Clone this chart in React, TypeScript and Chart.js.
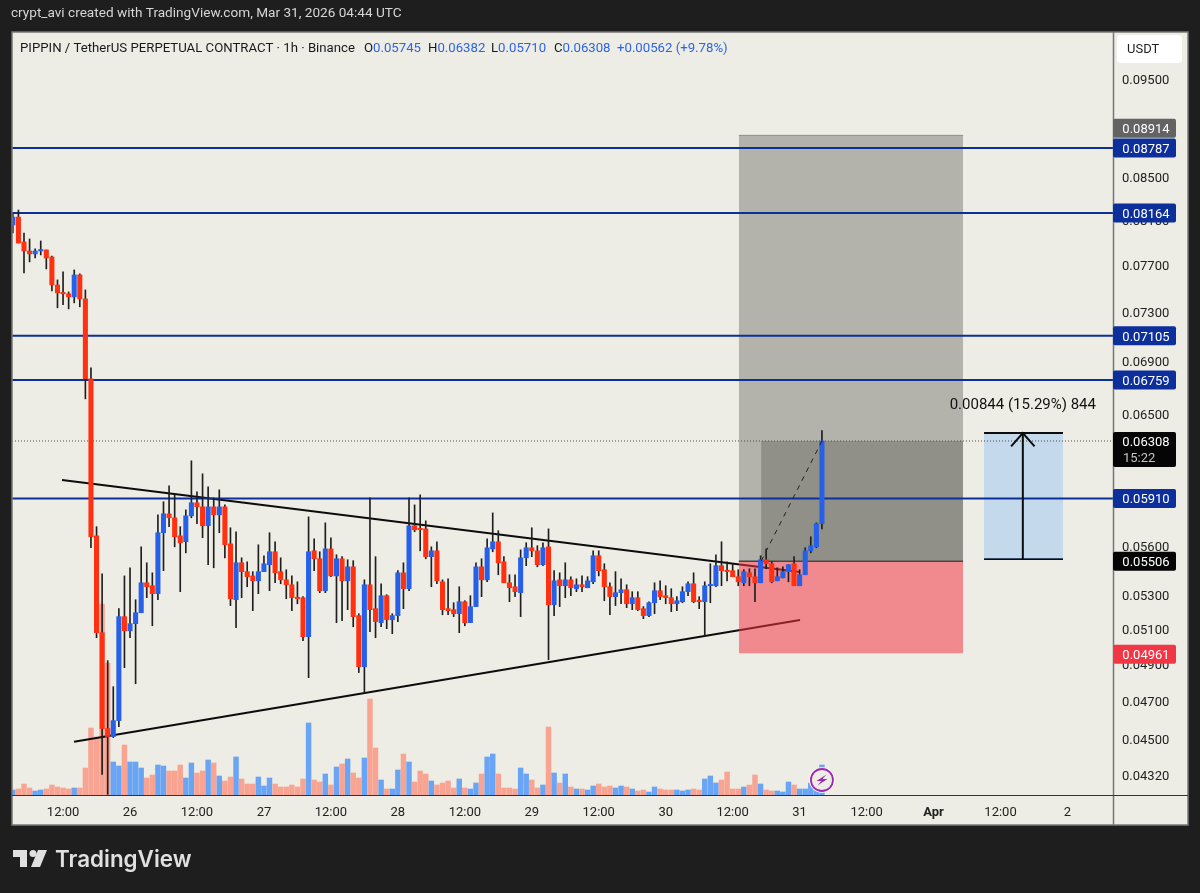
import React, { useEffect, useRef } from "react";
import { Chart, registerables } from "chart.js";
Chart.register(...registerables);

const firstHour = -21;
const opens = [
  0.08054,0.08127,0.07901,0.07821,0.07795,0.07821,0.07830,0.07768,0.07526,0.07459,
  0.07451,0.07425,0.07612,0.07408,0.06768,0.05666,0.05078,0.04556,0.04515,0.04597,
  0.05171,0.05089,0.05130,0.05194,0.05373,0.05355,0.05307,0.05686,0.05809,0.05783,
  0.05666,0.05628,0.05796,0.05882,0.05855,0.05731,0.05855,0.05802,0.05855,0.05615,
  0.05271,0.05496,0.05441,0.05415,0.05385,0.05441,0.05484,0.05565,0.05441,0.05391,
  0.05361,0.05283,0.05283,0.05055,0.05571,0.05521,0.05325,0.05583,0.05415,0.05521,
  0.05385,0.05471,0.05177,0.04886,0.05361,0.05218,0.05136,0.05295,0.05153,0.05177,
  0.05434,0.05337,0.05731,0.05711,0.05711,0.05534,0.05571,0.05379,0.05218,0.05212,
  0.05188,0.05259,0.05136,0.05230,0.05471,0.05391,0.05583,0.05628,0.05502,0.05373,
  0.05349,0.05313,0.05527,0.05590,0.05571,0.05484,0.05596,0.05241,0.05391,0.05355,
  0.05391,0.05337,0.05361,0.05343,0.05379,0.05540,0.05453,0.05349,0.05289,0.05313,
  0.05331,0.05247,0.05283,0.05218,0.05177,0.05253,0.05325,0.05295,0.05283,0.05247,
  0.05259,0.05319,0.05367,0.05265,0.05259,0.05355,0.05355,0.05478,0.05447,0.05447,
  0.05410,0.05373,0.05434,0.05410,0.05373,0.05515,0.05490,0.05385,0.05403,0.05441,
  0.05490,0.05355,0.05422,0.05571,0.05596,0.05745,
];
const highs = [
  0.08164,0.08192,0.07982,0.07928,0.07839,0.07910,0.07830,0.07777,0.07569,0.07638,
  0.07467,0.07655,0.07621,0.07484,0.06852,0.05725,0.05428,0.04920,0.04777,0.05218,
  0.05415,0.05465,0.05271,0.05596,0.05496,0.05434,0.05802,0.05889,0.05996,0.05935,
  0.05725,0.05835,0.06168,0.05955,0.06078,0.05989,0.05915,0.05969,0.05868,0.05718,
  0.05692,0.05527,0.05502,0.05441,0.05609,0.05540,0.05686,0.05628,0.05527,0.05453,
  0.05415,0.05379,0.05289,0.05789,0.05647,0.05565,0.05750,0.05654,0.05546,0.05534,
  0.05515,0.05509,0.05188,0.05391,0.05915,0.05534,0.05367,0.05301,0.05188,0.05447,
  0.05496,0.05915,0.05868,0.05935,0.05763,0.05596,0.05628,0.05391,0.05397,0.05253,
  0.05349,0.05265,0.05295,0.05496,0.05521,0.05647,0.05815,0.05699,0.05534,0.05422,
  0.05422,0.05577,0.05622,0.05718,0.05603,0.05622,0.05711,0.05447,0.05434,0.05496,
  0.05410,0.05397,0.05415,0.05410,0.05571,0.05571,0.05490,0.05373,0.05441,0.05397,
  0.05361,0.05319,0.05319,0.05230,0.05259,0.05373,0.05385,0.05355,0.05337,0.05289,
  0.05349,0.05379,0.05434,0.05289,0.05379,0.05490,0.05546,0.05628,0.05502,0.05490,
  0.05453,0.05453,0.05459,0.05459,0.05540,0.05583,0.05502,0.05465,0.05471,0.05484,
  0.05534,0.05453,0.05590,0.05660,0.05750,0.06382,
];
const lows = [
  0.07982,0.07892,0.07629,0.07725,0.07759,0.07786,0.07664,0.07476,0.07334,0.07359,
  0.07325,0.07375,0.07342,0.06616,0.05590,0.05049,0.04325,0.04229,0.04510,0.04566,
  0.04881,0.05049,0.04793,0.05194,0.05283,0.05118,0.05271,0.05447,0.05725,0.05596,
  0.05319,0.05558,0.05783,0.05744,0.05654,0.05484,0.05465,0.05686,0.05527,0.05236,
  0.05107,0.05283,0.05349,0.05206,0.05307,0.05441,0.05325,0.05373,0.05367,0.05277,
  0.05206,0.05247,0.05032,0.04826,0.05447,0.05313,0.05313,0.05410,0.05136,0.05147,
  0.05212,0.05112,0.04854,0.04745,0.05084,0.05049,0.05112,0.05101,0.05072,0.05142,
  0.05218,0.05325,0.05692,0.05571,0.05521,0.05349,0.05367,0.05182,0.05182,0.05171,
  0.05078,0.05118,0.05136,0.05230,0.05289,0.05379,0.05565,0.05422,0.05373,0.05259,
  0.05289,0.05171,0.05478,0.05534,0.05471,0.05478,0.04925,0.05177,0.05230,0.05283,
  0.05295,0.05319,0.05319,0.05343,0.05367,0.05415,0.05265,0.05182,0.05236,0.05247,
  0.05224,0.05212,0.05206,0.05159,0.05171,0.05188,0.05271,0.05247,0.05200,0.05206,
  0.05253,0.05295,0.05253,0.05218,0.05061,0.05253,0.05349,0.05355,0.05385,0.05410,
  0.05355,0.05355,0.05355,0.05259,0.05373,0.05459,0.05373,0.05385,0.05403,0.05379,
  0.05355,0.05355,0.05422,0.05558,0.05590,0.05710,
];
const closes = [
  0.08127,0.07892,0.07821,0.07795,0.07821,0.07830,0.07759,0.07526,0.07459,0.07451,
  0.07425,0.07612,0.07408,0.06768,0.05660,0.05078,0.04556,0.04515,0.04597,0.05171,
  0.05089,0.05130,0.05194,0.05373,0.05349,0.05307,0.05686,0.05809,0.05783,0.05660,
  0.05622,0.05796,0.05882,0.05855,0.05731,0.05855,0.05802,0.05855,0.05609,0.05277,
  0.05496,0.05441,0.05410,0.05385,0.05441,0.05490,0.05565,0.05434,0.05391,0.05361,
  0.05283,0.05277,0.05055,0.05565,0.05521,0.05325,0.05583,0.05415,0.05521,0.05385,
  0.05471,0.05171,0.04886,0.05361,0.05212,0.05142,0.05295,0.05153,0.05177,0.05434,
  0.05337,0.05731,0.05705,0.05705,0.05534,0.05571,0.05385,0.05212,0.05206,0.05188,
  0.05259,0.05136,0.05230,0.05471,0.05391,0.05590,0.05628,0.05496,0.05373,0.05343,
  0.05319,0.05527,0.05590,0.05571,0.05484,0.05590,0.05241,0.05385,0.05355,0.05391,
  0.05343,0.05361,0.05349,0.05385,0.05540,0.05447,0.05349,0.05289,0.05313,0.05331,
  0.05247,0.05283,0.05212,0.05177,0.05253,0.05325,0.05289,0.05283,0.05247,0.05265,
  0.05319,0.05367,0.05259,0.05259,0.05355,0.05361,0.05478,0.05447,0.05441,0.05410,
  0.05379,0.05441,0.05410,0.05373,0.05515,0.05490,0.05379,0.05410,0.05441,0.05484,
  0.05355,0.05422,0.05571,0.05603,0.05744,0.06308,
];
const volumes = [
  5,6,11,7,4,5,6,10,8,7,
  6,7,7,27,67,58,191,132,33,29,
  50,33,33,27,17,20,30,29,24,24,
  30,17,32,22,24,35,32,19,14,18,
  38,16,11,11,18,9,17,11,8,8,
  10,8,16,72,15,13,21,10,28,31,
  36,22,17,37,96,47,15,6,6,25,
  41,33,13,24,21,14,10,12,14,7,
  16,7,6,12,21,38,41,21,7,7,
  6,27,21,15,7,10,68,22,12,21,
  8,6,6,5,9,11,8,9,7,9,
  8,6,4,5,3,8,6,5,5,5,
  4,5,6,5,16,19,12,15,23,6,
  6,8,10,20,11,5,4,4,3,13,
  10,6,6,12,10,30,
];

const priceTicks = [0.095,0.085,0.081,0.077,0.073,0.069,0.065,0.056,0.053,0.051,0.049,0.047,0.045,0.0432];
const timeTickHours = [-12,0,12,24,36,48,60,72,84,96,108,120,132,144,156,168];
const timeTickLabels = ["12:00","26","12:00","27","12:00","28","12:00","29","12:00","30","12:00","31","12:00","Apr","12:00","2"];
const levelPrices = [0.08787,0.08164,0.07105,0.06759,0.0591];
const levelLabels = ["0.08787","0.08164","0.07105","0.06759","0.05910"];

const targetPrice = 0.08914, entryPrice = 0.05506, stopPrice = 0.04961, lastPrice = 0.06308;
const boxHours = [109.1, 149.3];
const profitStartHour = 113.1;
const rangeHours = [153.05, 167.2];
const rangeLow = 0.0552, rangeHigh = 0.06365, rangeHeadPrice = 0.0627, rangeMidHour = 160, rangeHeadHalf = 2.1;
const upperTrendHours = [-12.19, 120.07], upperTrendPrices = [0.06035, 0.05439];
const lowerTrendHours = [-10.04, 120.07], lowerTrendPrices = [0.04488, 0.05152];
const xMin = -21.15, xMax = 176.16, yMin = 0.04226, yMax = 0.1002, volMax = 763;

const hours = opens.map((_, i) => firstHour + i);
const BG = "#edede5", DARK = "#1e1e1e", BLUE = "#2660e8", RED = "#ff3110", NAVY = "#0c2f9b", FONT = "Roboto";

const line = (pts: any[], color: string, width: number, order: number, extra: any = {}) => ({
  type: "line", data: pts, borderColor: color, borderWidth: width, pointRadius: 0, order, yAxisID: "y",
  tension: 0, fill: false, ...extra,
});
const pair = (xs: number[], ys: number[]) => [{ x: xs[0], y: ys[0] }, { x: xs[1], y: ys[1] }];

const frame = {
  id: "frame",
  beforeDraw(c: any) {
    const x = c.ctx;
    x.save();
    x.fillStyle = DARK; x.fillRect(0, 0, 1200, 893);
    x.fillStyle = BG; x.fillRect(12, 32, 1176, 793);
    x.restore();
  },
  afterDraw(c: any) {
    const x = c.ctx, yS = c.scales.y, xS = c.scales.x;
    x.save();
    x.strokeStyle = "#777"; x.lineWidth = 1.5;
    x.strokeRect(12, 32, 1176, 793);
    x.beginPath(); x.moveTo(1113.5, 32); x.lineTo(1113.5, 825); x.stroke();
    x.strokeStyle = "#333"; x.lineWidth = 1;
    x.beginPath(); x.moveTo(12, 795.5); x.lineTo(1188, 795.5); x.stroke();

    const text = (s: string, px: number, py: number, col: string, font: string, align: CanvasTextAlign = "left") => {
      x.fillStyle = col; x.font = font; x.textAlign = align; x.textBaseline = "middle"; x.fillText(s, px, py);
    };
    // top text
    text("crypt_avi created with TradingView.com, Mar 31, 2026 04:44 UTC", 11, 14, "#d6d6d6", `13.6px ${FONT}`);
    const hf = `13.2px ${FONT}`;
    text("PIPPIN / TetherUS PERPETUAL CONTRACT · 1h · Binance", 20, 48.5, "#17191f", hf);
    const seg: [string, string, number][] = [["O", "0.05745", 364], ["H", "0.06382", 428], ["L", "0.05710", 491], ["C", "0.06308", 554]];
    seg.forEach(([a, b, px]) => {
      text(a, px, 48.5, "#17191f", hf);
      const w = x.measureText(a).width;
      text(b, px + w, 48.5, "#2e64e6", hf);
    });
    text("+0.00562 (+9.78%)", 617, 48.5, "#2e64e6", hf);

    // USDT button
    x.fillStyle = "#ffffff";
    x.beginPath(); x.roundRect(1117, 35, 65, 28, 4); x.fill();
    text("USDT", 1127, 50, "#222", `13px ${FONT}`);

    // price tags
    const tag = (p: number, s: string, col: string, shift = 0) => {
      const py = yS.getPixelForValue(p) + shift;
      x.fillStyle = col;
      x.beginPath(); x.roundRect(1113, py - 9.5, 63, 19, 2); x.fill();
      text(s, 1146, py + 1.5, "#fff", `13px ${FONT}`, "center");
    };
    tag(targetPrice, "0.08914", "#636363", -7);
    levelPrices.forEach((p, i) => tag(p, levelLabels[i], NAVY));
    tag(entryPrice, "0.05506", "#050505");
    tag(stopPrice, "0.04961", "#f23645", 1);
    const ly = yS.getPixelForValue(lastPrice);
    x.fillStyle = "#050505";
    x.beginPath(); x.roundRect(1113, ly - 9, 63, 35, 2); x.fill();
    text("0.06308", 1146, ly + 1.5, "#fff", `13px ${FONT}`, "center");
    text("15:22", 1123, ly + 18, "#c4c4c4", `13px ${FONT}`);

    // range label
    text("0.00844 (15.29%) 844", xS.getPixelForValue(rangeMidHour), 405.5, "#111", `15px ${FONT}`, "center");

    // lightning badge at the latest bar
    const bx = xS.getPixelForValue(hours[hours.length - 1]), by = 780;
    x.beginPath(); x.arc(bx, by, 12.8, 0, Math.PI * 2); x.fillStyle = "#ffffff"; x.fill();
    x.beginPath(); x.arc(bx, by, 11, 0, Math.PI * 2); x.fillStyle = BG; x.fill();
    x.strokeStyle = "#9c27b0"; x.lineWidth = 1.8; x.stroke();
    x.fillStyle = "#9c27b0";
    x.beginPath();
    x.moveTo(bx + 4.5, by - 5.5); x.lineTo(bx - 5.5, by + 1); x.lineTo(bx - 0.5, by + 1); x.lineTo(bx - 4.5, by + 5.5);
    x.lineTo(bx + 5.5, by - 1); x.lineTo(bx + 0.5, by - 1); x.closePath(); x.fill();

    // logo
    x.fillStyle = "#e0e0e0";
    x.fillRect(13, 850, 14, 7); x.fillRect(20, 850, 7, 17);
    x.beginPath(); x.arc(33, 853.5, 3.5, 0, Math.PI * 2); x.fill();
    x.beginPath(); x.moveTo(38, 850); x.lineTo(47, 850); x.lineTo(40, 867); x.lineTo(31, 867); x.closePath(); x.fill();
    text("TradingView", 55, 860, "#e0e0e0", `600 22.4px Inter`);
    x.restore();
  },
};

export default function App() {
  const ref = useRef<HTMLCanvasElement>(null);
  useEffect(() => {
    const isUp = (i: number) => closes[i] >= opens[i];
    const chart = new Chart(ref.current as any, {
      type: "bar",
      data: {
        datasets: [
          { label: "Volume", data: hours.map((h, i) => ({ x: h, y: volumes[i] })), yAxisID: "y1", order: 100, barThickness: 4.8,
            backgroundColor: hours.map((_, i) => (isUp(i) ? "#69a5f4" : "#f9a392")), grouped: false },
          line(pair(upperTrendHours, upperTrendPrices), "#0c0c0c", 2, 90),
          line(pair(lowerTrendHours, lowerTrendPrices), "#0c0c0c", 2, 90),
          // risk / reward boxes
          line(pair(boxHours, [targetPrice, targetPrice]), "#8f8f88", 1, 80, { fill: { value: entryPrice }, backgroundColor: "rgba(92,92,85,0.4)" }),
          line(pair(boxHours, [entryPrice, entryPrice]), "#0c0c0c", 1, 79, { fill: { value: stopPrice }, backgroundColor: "rgba(242,54,69,0.54)" }),
          line(pair([profitStartHour, boxHours[1]], [lastPrice, lastPrice]), "rgba(0,0,0,0)", 0, 78, { fill: { value: entryPrice }, backgroundColor: "rgba(92,92,85,0.4)" }),
          line(pair(rangeHours, [rangeHigh, rangeHigh]), "#0c0c0c", 2, 77, { fill: { value: rangeLow }, backgroundColor: "rgba(130,185,245,0.38)" }),
          line(pair(rangeHours, [rangeLow, rangeLow]), "#0c0c0c", 2, 77),
          ...levelPrices.map((p) => line(pair([xMin, xMax], [p, p]), NAVY, 2, 70)),
          line(pair([xMin, xMax], [lastPrice, lastPrice]), "#4a4a4a", 1, 69, { borderDash: [1, 2] }),
          line(pair([rangeMidHour, rangeMidHour], [rangeLow, rangeHigh]), "#0c0c0c", 2, 68),
          line([{ x: rangeMidHour - rangeHeadHalf, y: rangeHeadPrice }, { x: rangeMidHour, y: rangeHigh }, { x: rangeMidHour + rangeHeadHalf, y: rangeHeadPrice }], "#0c0c0c", 2, 68),
          line(pair([profitStartHour, hours[hours.length - 1]], [entryPrice, lastPrice]), "#222", 1, 20, { borderDash: [5, 5] }),
          { label: "Wicks", data: hours.map((h, i) => ({ x: h, y: [lows[i], highs[i]] })), order: 60, barThickness: 1, minBarLength: 1,
            backgroundColor: "#1f1f1f", grouped: false, yAxisID: "y" },
          { label: "Bodies", data: hours.map((h, i) => ({ x: h, y: [opens[i], closes[i]] })), order: 50, barThickness: 4.4, minBarLength: 1.5,
            backgroundColor: hours.map((_, i) => (isUp(i) ? BLUE : RED)), grouped: false, yAxisID: "y" },
        ] as any,
      },
      options: {
        animation: false, responsive: false, devicePixelRatio: 1, events: [],
        layout: { padding: { left: 12, top: 32, right: 0, bottom: 0 } },
        plugins: { legend: { display: false }, tooltip: { enabled: false }, title: { display: false } },
        scales: {
          x: {
            type: "linear", min: xMin, max: xMax, offset: false,
            grid: { display: false }, border: { display: false },
            afterBuildTicks(s: any) { s.ticks = timeTickHours.map((v) => ({ value: v })); },
            afterFit(s: any) { s.height = 98; },
            ticks: {
              autoSkip: false, maxRotation: 0, padding: 2, color: "#222",
              font: (ctx: any) => ({ family: FONT, size: 13, weight: ctx.tick && timeTickLabels[timeTickHours.indexOf(ctx.tick.value)] === "Apr" ? "bold" : "normal" }),
              callback: (v: any) => timeTickLabels[timeTickHours.indexOf(v)],
            },
          },
          y: {
            type: "logarithmic", position: "right", min: yMin, max: yMax,
            grid: { display: false, drawTicks: false }, border: { display: false },
            afterBuildTicks(s: any) { s.ticks = priceTicks.map((v) => ({ value: v })); },
            afterFit(s: any) { s.width = 87; },
            ticks: {
              autoSkip: false, padding: 9, labelOffset: 1.5, color: "#222", font: { family: FONT, size: 13 },
              callback: (v: any) => Number(v).toFixed(5),
            },
          },
          y1: { type: "linear", display: false, min: 0, max: volMax },
        },
      } as any,
      plugins: [frame],
    } as any);
    return () => chart.destroy();
  }, []);
  return (
    <div style={{ position: "fixed", left: 0, top: 0, width: 1200, height: 893, background: DARK }}>
      <canvas ref={ref} width={1200} height={893} style={{ display: "block", width: 1200, height: 893 }} />
    </div>
  );
}
